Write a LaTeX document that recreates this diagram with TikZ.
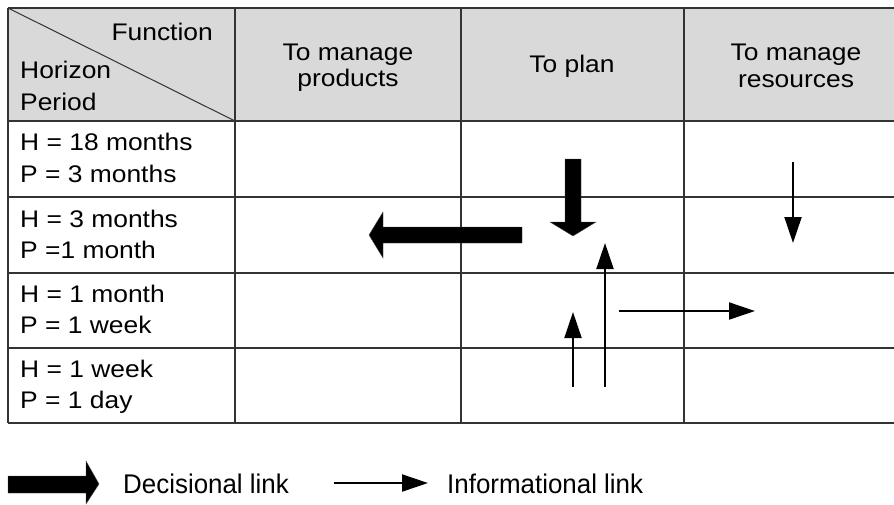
\documentclass[tikz,border=0pt]{standalone}
\usepackage{fontspec}
\setmainfont{Liberation Sans}
\newfontfamily\tabfont{Liberation Sans}[FakeStretch=1.1]
\newfontfamily\legfont{Liberation Sans}[FakeStretch=0.96]
\usetikzlibrary{arrows.meta}
\definecolor{headgray}{HTML}{D9D9D9}
\definecolor{gridcol}{HTML}{333333}
\tikzset{
  gridline/.style={draw=gridcol, line width=1.3pt},
  celltext/.style={inner sep=0pt, font=\tabfont\fontsize{24}{30}\selectfont},
  legtext/.style={inner sep=0pt, anchor=base west, font=\legfont\fontsize{27}{32}\selectfont},
  bigarrow/.style={fill=black, draw=black!70, line width=0.4pt},
  infoarrow/.style={draw=black, line width=2pt, -{Triangle[length=26pt, width=17pt]}}
}
\begin{document}
\begin{tikzpicture}[x=1pt, y=-1pt]
\useasboundingbox (0,0) rectangle (894,504);
\clip (0,0) rectangle (894,504);
% header
\fill[headgray] (8,8) rectangle (908,121);
% grid
\foreach \yy in {8,121,197,273,348,423} \draw[gridline] (8,\yy) -- (908,\yy);
\foreach \xx in {8,235,461,684} \draw[gridline] (\xx,8) -- (\xx,423);
\draw[gridline, line width=1pt] (8,8) -- (235,121);
% header texts
\node[celltext, anchor=base east] (fn) at (213,40) {Function};
\node[celltext, anchor=base west] (hz) at (20,78) {Horizon};
\node[celltext, anchor=base west] (pd) at (20,110) {Period};
\node[celltext, anchor=base] (c1a) at (348,60) {To manage};
\node[celltext, anchor=base] (c1b) at (348,86) {products};
\node[celltext, anchor=base] (c2) at (572,72) {To plan};
\node[celltext, anchor=base] (c3a) at (796,60) {To manage};
\node[celltext, anchor=base] (c3b) at (796,87) {resources};
% row texts
\node[celltext, anchor=base west] (r1a) at (20,150) {H = 18 months};
\node[celltext, anchor=base west] (r1b) at (20,182) {P = 3 months};
\node[celltext, anchor=base west] (r2a) at (20,227) {H = 3 months};
\node[celltext, anchor=base west] (r2b) at (20,258) {P =1 month};
\node[celltext, anchor=base west] (r3a) at (20,302) {H = 1 month};
\node[celltext, anchor=base west] (r3b) at (20,333) {P = 1 week};
\node[celltext, anchor=base west] (r4a) at (20,377) {H = 1 week};
\node[celltext, anchor=base west] (r4b) at (20,408) {P = 1 day};
% decisional arrows
\draw[bigarrow] (522,227) -- (383,227) -- (383,212) -- (369,235) -- (383,258) -- (383,243) -- (522,243) -- cycle;
\draw[bigarrow] (565,159) -- (581,159) -- (581,222) -- (596,222) -- (573,236) -- (550,222) -- (565,222) -- cycle;
% informational arrows
\coordinate (i1s) at (793,162); \coordinate (i1e) at (793,243);
\coordinate (i2s) at (605,387); \coordinate (i2e) at (605,243);
\coordinate (i3s) at (573,387); \coordinate (i3e) at (573,312);
\coordinate (i4s) at (619,311); \coordinate (i4e) at (755,311);
\draw[infoarrow] (i1s) -- (i1e);
\draw[infoarrow] (i2s) -- (i2e);
\draw[infoarrow] (i3s) -- (i3e);
\draw[infoarrow] (i4s) -- (i4e);
% legend
\draw[bigarrow] (8,476) -- (86,476) -- (86,461) -- (99,484) -- (86,504) -- (86,493) -- (8,493) -- cycle;
\node[legtext] (ld) at (123,493) {Decisional link};
\coordinate (lis) at (334,483); \coordinate (lie) at (428,483);
\draw[infoarrow] (lis) -- (lie);
\node[legtext] (li) at (447,493) {Informational link};
\end{tikzpicture}
\end{document}
